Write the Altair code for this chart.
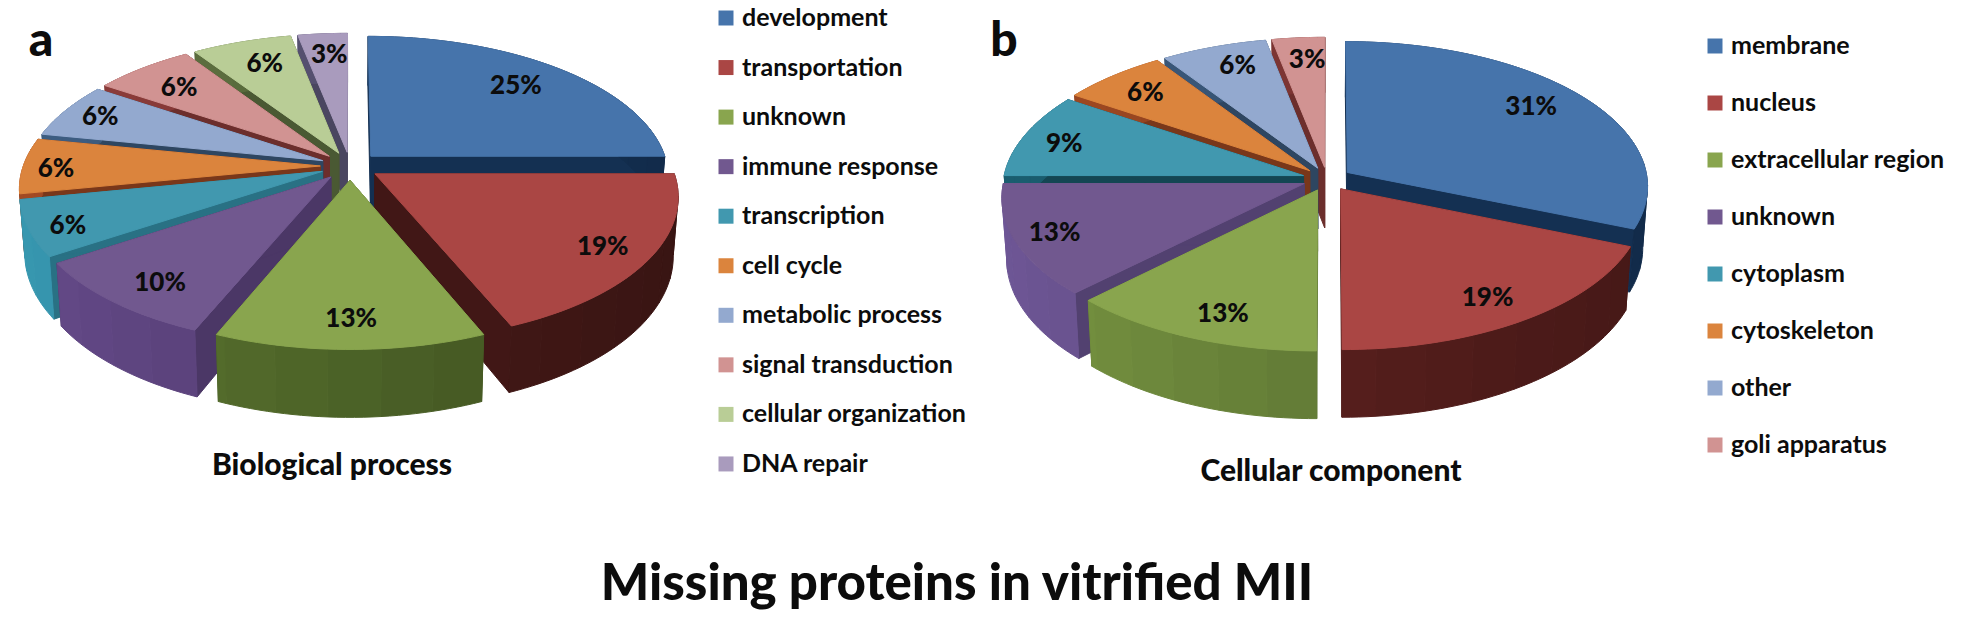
import math
import altair as alt

# ---------- data ----------
cats_a = ["development", "transportation", "unknown", "immune response", "transcription",
          "cell cycle", "metabolic process", "signal transduction", "cellular organization", "DNA repair"]
labels_a = [25, 19, 13, 10, 6, 6, 6, 6, 6, 3]
shares_a = [25, 18.75, 12.5, 9.4, 6.25, 6.25, 6.25, 6.25, 6.25, 3.1]
cats_b = ["membrane", "nucleus", "extracellular region", "unknown", "cytoplasm",
          "cytoskeleton", "other", "goli apparatus"]
labels_b = [31, 19, 13, 13, 9, 6, 6, 3]
shares_b = [31.25, 18.75, 12.5, 12.5, 9.4, 6.25, 6.25, 3.1]

top_a = ["#4674AB", "#AA4644", "#89A54E", "#71588F", "#4198AF", "#DB843D", "#93A9CF", "#D19392", "#B9CD96", "#A99BBD"]
wall_a = ["#17375E", "#4A1B19", "#4F6629", "#563F75", "#2F8196", "#8A3F1E", "#35506F", "#7B3533", "#55663A", "#55506E"]
top_b = ["#4674AB", "#AA4644", "#89A54E", "#71588F", "#4198AF", "#DB843D", "#93A9CF", "#D19392"]
wall_b = ["#17375E", "#5A201E", "#667F38", "#5E4A80", "#17505F", "#8A3F1E", "#35506F", "#7B3533"]

title_a = "Biological process"
title_b = "Cellular component"
main_title = "Missing proteins in vitrified MII"

# ---------- layout (pie model, label placement inside each slice) ----------
pie_a = dict(cx=350, cy=166, A=297, B=140, p=0.146, D=57, e=0.10, lx=-5)
pie_b = dict(cx=1327, cy=179, A=300, B=144, p=0.092, D=61, e=0.082, lx=0)
label_r_a = [.785, .863, .841, .829, .866, .87, .843, .76, .767, .796]
label_f_a = [.1256, .344, .4966, .601, .681, .746, .814, .875, .944, .99]
label_r_b = [.805, .835, .836, .867, .848, .819, .82, .813]
label_f_b = [.148, .409, .556, .688, .793, .874, .9425, .9875]


def shade(hex_c, f):
    r, g, b = (int(hex_c[i:i + 2], 16) for i in (1, 3, 5))
    return "#%02x%02x%02x" % tuple(min(255, int(c * f)) for c in (r, g, b))


def proj(pie, u, v):
    s = 1 / (1 - pie["p"] * v)
    return pie["cx"] + pie["A"] * u * s, pie["cy"] + pie["B"] * v * s, s


def direction(f):
    return math.sin(2 * math.pi * f), -math.cos(2 * math.pi * f)


def bottom(pie, x, y, s):
    return pie["cx"] + (x - pie["cx"]) * 0.985, y + pie["D"] * s


def poly(pts, color):
    ring = [[round(a, 2), round(b, 2)] for a, b in pts]
    ring.append(ring[0])
    return {"type": "Feature", "properties": {"c": color},
            "geometry": {"type": "Polygon", "coordinates": [ring]}}


def build_pie(pie, vals, tops, walls):
    total = sum(vals)
    starts, acc = [], 0
    for v in vals:
        starts.append(acc / total)
        acc += v
    mids = [s + v / total / 2 for s, v in zip(starts, vals)]
    feats = []
    for i in sorted(range(len(vals)), key=lambda k: direction(mids[k])[1]):
        dx, dy = direction(mids[i])
        ou, ov = pie["e"] * dx, pie["e"] * dy
        f0, f1 = starts[i], starts[i] + vals[i] / total
        n = max(3, int((f1 - f0) / 0.004))
        rim = []
        for k in range(n + 1):
            su, sv = direction(f0 + (f1 - f0) * k / n)
            rim.append(proj(pie, ou + su, ov + sv))
        ax, ay, asc = proj(pie, ou, ov)
        abx, aby = bottom(pie, ax, ay, asc)
        for x, y, s in (rim[0], rim[-1]):
            bx, by = bottom(pie, x, y, s)
            feats.append(poly([(ax, ay), (x, y), (bx, by), (abx, aby)], shade(walls[i], 0.88)))
        # one polygon per band of equal shade, so that no seams show on the wall
        band = 6
        for k in range(0, n, band):
            seg = rim[k:min(k + band, n) + 1]
            low = [bottom(pie, x, y, s) for x, y, s in seg]
            rel = (seg[0][0] - pie["cx"]) / pie["A"]
            pts = [(x, y) for x, y, _ in seg] + low[::-1]
            feats.append(poly(pts, shade(walls[i], 0.98 - 0.18 * rel)))
        feats.append(poly([(ax, ay)] + [(x, y) for x, y, _ in rim], tops[i]))
    return feats


def pct_rows(pie, shares, labels, rs, fs):
    total = sum(shares)
    rows, acc = [], 0
    for v, lab, r, f in zip(shares, labels, rs, fs):
        m = (acc + v / 2) / total
        acc += v
        dx, dy = direction(m)
        su, sv = direction(f)
        x, y, _ = proj(pie, pie["e"] * dx + r * su, pie["e"] * dy + r * sv)
        rows.append({"x": x + pie["lx"], "y": y, "t": f"{lab}%"})
    return rows


def legend_rows(cats, colors, x0, y0, step):
    return [{"x": x0, "y": y0 + step * i, "t": c, "c": col, "tx": x0 + 16}
            for i, (c, col) in enumerate(zip(cats, colors))]


features = build_pie(pie_a, shares_a, top_a, wall_a) + build_pie(pie_b, shares_b, top_b, wall_b)
pcts = pct_rows(pie_a, shares_a, labels_a, label_r_a, label_f_a) + pct_rows(pie_b, shares_b, labels_b, label_r_b, label_f_b)
legends = legend_rows(cats_a, top_a, 726, 18, 49.55) + legend_rows(cats_b, top_b, 1715, 46, 57)

PROJ = dict(type="identity", scale=1, translate=[-8, -8])
FONT = "Lato"
INK = "#0c0c0c"

pies = alt.Chart(alt.Data(values=features)).mark_geoshape(strokeWidth=1).encode(
    color=alt.Color("properties.c:N", scale=None),
    stroke=alt.Stroke("properties.c:N", scale=None),
).project(**PROJ)


def text_layer(rows, size, xf="x", align="center", baseline="middle", weight="bold"):
    return alt.Chart(alt.Data(values=rows)).mark_text(
        font=FONT, fontSize=size, fontWeight=weight, align=align, baseline=baseline, color=INK
    ).encode(
        longitude=alt.Longitude(f"{xf}:Q"),
        latitude=alt.Latitude("y:Q"),
        text=alt.Text("t:N"),
    ).project(**PROJ)


pct_layer = text_layer(pcts, 26, weight=900)
swatches = alt.Chart(alt.Data(values=legends)).mark_square(size=225, opacity=1).encode(
    longitude=alt.Longitude("x:Q"),
    latitude=alt.Latitude("y:Q"),
    color=alt.Color("c:N", scale=None),
).project(**PROJ)
legend_text = text_layer(legends, 25, xf="tx", align="left")
panel_titles = text_layer([{"x": 332, "y": 466, "t": title_a}, {"x": 1331, "y": 472, "t": title_b}], 30, weight=900)
letters = text_layer([{"x": 41, "y": 56, "t": "a"}, {"x": 1004, "y": 56, "t": "b"}], 48, baseline="alphabetic", weight=900)
main = text_layer([{"x": 957, "y": 600, "t": main_title}], 51, baseline="alphabetic", weight=900)

chart = alt.layer(pies, pct_layer, swatches, legend_text, panel_titles, letters, main).properties(
    width=1945, height=605, padding=0, background="white"
).configure_view(stroke=None)

chart.save("out.html", embed_options={"renderer": "svg", "actions": False})
